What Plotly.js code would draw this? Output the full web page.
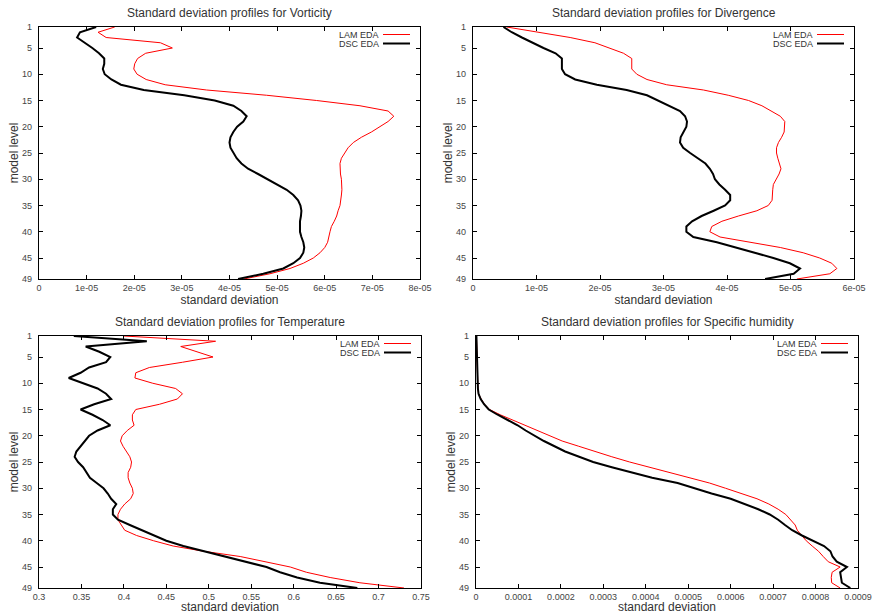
<!DOCTYPE html>
<html>
<head>
<meta charset="utf-8">
<script src="https://cdn.plot.ly/plotly-3.0.1.min.js"></script>
<style>
  html, body { margin: 0; padding: 0; background: #fff; }
  #chart { width: 874px; height: 614px; }
</style>
</head>
<body>
<div id="chart"></div>
<script>
// ---------------- data ----------------
const levels = [1,2,3,4,5,6,7,8,9,10,11,12,13,14,15,16,17,18,19,20,21,22,23,24,25,26,27,28,29,30,31,32,33,34,35,36,37,38,39,40,41,42,43,44,45,46,47,48,49];

const vortLAM = [1.59e-5,1.24e-5,1.41e-5,2.55e-5,2.80e-5,2.24e-5,2.07e-5,2.01e-5,1.99e-5,2.06e-5,2.25e-5,2.65e-5,3.52e-5,4.78e-5,5.83e-5,6.74e-5,7.33e-5,7.45e-5,7.33e-5,7.16e-5,6.98e-5,6.77e-5,6.60e-5,6.49e-5,6.42e-5,6.35e-5,6.32e-5,6.32e-5,6.33e-5,6.35e-5,6.36e-5,6.36e-5,6.35e-5,6.34e-5,6.32e-5,6.28e-5,6.25e-5,6.20e-5,6.14e-5,6.11e-5,6.09e-5,6.06e-5,6.00e-5,5.90e-5,5.76e-5,5.55e-5,5.27e-5,4.85e-5,4.30e-5];
const vortDSC = [1.20e-5,0.86e-5,0.80e-5,0.97e-5,1.12e-5,1.26e-5,1.37e-5,1.37e-5,1.34e-5,1.38e-5,1.52e-5,1.72e-5,2.20e-5,3.05e-5,3.69e-5,4.08e-5,4.25e-5,4.36e-5,4.29e-5,4.16e-5,4.08e-5,4.02e-5,4.00e-5,4.02e-5,4.08e-5,4.15e-5,4.25e-5,4.39e-5,4.60e-5,4.81e-5,5.02e-5,5.20e-5,5.34e-5,5.44e-5,5.49e-5,5.51e-5,5.50e-5,5.48e-5,5.48e-5,5.48e-5,5.51e-5,5.55e-5,5.57e-5,5.55e-5,5.48e-5,5.34e-5,5.13e-5,4.71e-5,4.18e-5];

const divLAM = [0.53e-5,1.00e-5,1.53e-5,1.92e-5,2.16e-5,2.37e-5,2.50e-5,2.50e-5,2.50e-5,2.58e-5,2.74e-5,3.05e-5,3.63e-5,4.02e-5,4.34e-5,4.55e-5,4.70e-5,4.84e-5,4.91e-5,4.91e-5,4.90e-5,4.86e-5,4.81e-5,4.78e-5,4.78e-5,4.80e-5,4.82e-5,4.85e-5,4.82e-5,4.77e-5,4.73e-5,4.72e-5,4.72e-5,4.71e-5,4.65e-5,4.47e-5,4.18e-5,3.92e-5,3.76e-5,3.73e-5,3.89e-5,4.34e-5,4.84e-5,5.20e-5,5.46e-5,5.65e-5,5.73e-5,5.62e-5,5.10e-5];
const divDSC = [0.48e-5,0.61e-5,0.77e-5,0.93e-5,1.11e-5,1.30e-5,1.40e-5,1.40e-5,1.40e-5,1.45e-5,1.61e-5,1.95e-5,2.42e-5,2.74e-5,2.92e-5,3.08e-5,3.26e-5,3.34e-5,3.37e-5,3.36e-5,3.32e-5,3.27e-5,3.26e-5,3.31e-5,3.42e-5,3.55e-5,3.66e-5,3.73e-5,3.78e-5,3.81e-5,3.88e-5,3.97e-5,4.05e-5,4.05e-5,3.97e-5,3.79e-5,3.60e-5,3.45e-5,3.36e-5,3.36e-5,3.47e-5,3.84e-5,4.15e-5,4.44e-5,4.73e-5,4.99e-5,5.15e-5,5.05e-5,4.60e-5];

const tempLAM = [0.400,0.508,0.467,0.485,0.505,0.469,0.430,0.414,0.413,0.434,0.461,0.469,0.463,0.442,0.414,0.410,0.410,0.412,0.404,0.398,0.396,0.399,0.403,0.407,0.409,0.408,0.405,0.405,0.407,0.410,0.411,0.408,0.401,0.396,0.393,0.393,0.397,0.401,0.415,0.435,0.458,0.494,0.537,0.568,0.596,0.615,0.643,0.678,0.730];
const tempDSC = [0.341,0.427,0.355,0.371,0.384,0.379,0.359,0.349,0.335,0.351,0.369,0.379,0.385,0.365,0.349,0.363,0.375,0.384,0.369,0.359,0.354,0.349,0.344,0.342,0.346,0.352,0.356,0.360,0.368,0.376,0.381,0.385,0.391,0.387,0.387,0.393,0.407,0.421,0.435,0.450,0.470,0.494,0.521,0.545,0.568,0.584,0.604,0.631,0.675];

const humLAM = [0.000001,0.0000012,0.0000014,0.0000016,0.0000018,0.000002,0.0000022,0.0000025,0.000003,0.0000035,0.0000045,0.000006,0.000012,0.00002,0.000032,0.000057,0.000087,0.000117,0.000145,0.000174,0.000203,0.000242,0.00028,0.00032,0.000362,0.000408,0.000457,0.000505,0.00055,0.000588,0.000627,0.000662,0.00069,0.000712,0.00073,0.000742,0.000752,0.000757,0.000767,0.000778,0.000792,0.000807,0.000818,0.00083,0.000858,0.000839,0.000837,0.000838,0.000858];
const humDSC = [0.000001,0.0000012,0.0000014,0.0000016,0.0000018,0.000002,0.0000022,0.0000025,0.000003,0.0000035,0.0000045,0.000006,0.000011,0.000019,0.00003,0.000051,0.000075,0.000098,0.000117,0.000138,0.00016,0.000185,0.00021,0.000243,0.000276,0.00032,0.000365,0.000415,0.000475,0.000513,0.000555,0.0006,0.000635,0.000665,0.000692,0.000712,0.000728,0.000745,0.000768,0.000795,0.00082,0.000835,0.00084,0.00085,0.000874,0.000858,0.00086,0.000862,0.000882];

const seriesNames = ["LAM EDA", "DSC EDA"];
const panelTitles = ["Standard deviation profiles for Vorticity","Standard deviation profiles for Divergence","Standard deviation profiles for Temperature","Standard deviation profiles for Specific humidity"];
const xTitle = "standard deviation";
const yTitle = "model level";

const levelTickVals = [1,5,10,15,20,25,30,35,40,45,49];
const levelTickText = ["1","5","10","15","20","25","30","35","40","45","49"];
const vortTickVals = [0,1e-5,2e-5,3e-5,4e-5,5e-5,6e-5,7e-5,8e-5];
const vortTickText = ["0","1e-05","2e-05","3e-05","4e-05","5e-05","6e-05","7e-05","8e-05"];
const divTickVals = [0,1e-5,2e-5,3e-5,4e-5,5e-5,6e-5];
const divTickText = ["0","1e-05","2e-05","3e-05","4e-05","5e-05","6e-05"];
const tempTickVals = [0.3,0.35,0.4,0.45,0.5,0.55,0.6,0.65,0.7,0.75];
const tempTickText = ["0.3","0.35","0.4","0.45","0.5","0.55","0.6","0.65","0.7","0.75"];
const humTickVals = [0,0.0001,0.0002,0.0003,0.0004,0.0005,0.0006,0.0007,0.0008,0.0009];
const humTickText = ["0","0.0001","0.0002","0.0003","0.0004","0.0005","0.0006","0.0007","0.0008","0.0009"];

// ---------------- layout helpers ----------------
const W = 874, H = 614;
const FONT = "'Liberation Sans', Arial, Helvetica, sans-serif";
const RED = "#ff0000", BLACK = "#000000";

// pixel boxes of the four plot areas [left, right, top, bottom]
const boxes = [
  [39, 420, 27, 279],
  [473, 854, 27, 279],
  [39, 421, 336, 588],
  [476, 858, 336, 588]
];
const xData = [[vortLAM, vortDSC],[divLAM, divDSC],[tempLAM, tempDSC],[humLAM, humDSC]];
const xRanges = [[0,8e-5],[0,6e-5],[0.3,0.75],[0,0.0009]];
const xTicks = [[vortTickVals,vortTickText],[divTickVals,divTickText],[tempTickVals,tempTickText],[humTickVals,humTickText]];

const traces = [];
const layout = {
  width: W, height: H,
  margin: {l:0, r:0, t:0, b:0},
  paper_bgcolor: "#fff", plot_bgcolor: "#fff",
  showlegend: false,
  font: {family: FONT, color: "#333"},
  annotations: [], shapes: []
};

boxes.forEach((b, i) => {
  const n = i === 0 ? "" : String(i + 1);
  const xa = "x" + n, ya = "y" + n;
  traces.push({
    type: "scatter", mode: "lines", name: seriesNames[0],
    x: xData[i][0], y: levels, xaxis: xa, yaxis: ya,
    line: {color: RED, width: 1}
  });
  traces.push({
    type: "scatter", mode: "lines", name: seriesNames[1],
    x: xData[i][1], y: levels, xaxis: xa, yaxis: ya,
    line: {color: BLACK, width: 2}
  });
  const axCommon = {
    showline: true, linecolor: "#000", linewidth: 1.3, mirror: "ticks",
    ticks: "inside", ticklen: 4, tickwidth: 1, tickcolor: "#000",
    showgrid: false, zeroline: false,
    tickfont: {family: FONT, size: 9, color: "#444"}
  };
  layout["xaxis" + n] = Object.assign({}, axCommon, {
    domain: [b[0]/W, b[1]/W], anchor: ya,
    range: xRanges[i], tickmode: "array",
    tickvals: xTicks[i][0], ticktext: xTicks[i][1],
    ticklabelstandoff: 0,
    title: {text: xTitle, font: {family: FONT, size: 12, color: "#333"}, standoff: 2}
  });
  layout["yaxis" + n] = Object.assign({}, axCommon, {
    domain: [1 - b[3]/H, 1 - b[2]/H], anchor: xa,
    range: [49, 1], tickmode: "array",
    tickvals: levelTickVals, ticktext: levelTickText,
    ticklabelstandoff: 4,
    title: {text: yTitle, font: {family: FONT, size: 12, color: "#333"}, standoff: 0}
  });
  // subplot title
  layout.annotations.push({
    xref: "paper", yref: "paper",
    x: (b[0] + b[1]) / 2 / W, y: 1 - (b[2] - 14) / H,
    xanchor: "center", yanchor: "middle", showarrow: false,
    text: panelTitles[i], font: {family: FONT, size: 12, color: "#333"}
  });
  // gnuplot-style key: text then line sample, top-right inside
  const pw = b[1] - b[0], ph = b[3] - b[2];
  [[RED, 1, 7.5], [BLACK, 2, 16.5]].forEach((k, j) => {
    const yy = 1 - k[2] / ph;
    layout.shapes.push({
      type: "line", xref: xa + " domain", yref: ya + " domain",
      x0: 1 - 37 / pw, x1: 1 - 10 / pw, y0: yy, y1: yy,
      line: {color: k[0], width: k[1]}
    });
    layout.annotations.push({
      xref: xa + " domain", yref: ya + " domain",
      x: 1 - 39 / pw, y: yy, xanchor: "right", yanchor: "middle",
      showarrow: false, text: seriesNames[j],
      font: {family: FONT, size: 9, color: "#333"}
    });
  });
});

Plotly.newPlot("chart", traces, layout, {staticPlot: true, displayModeBar: false});
</script>
</body>
</html>
